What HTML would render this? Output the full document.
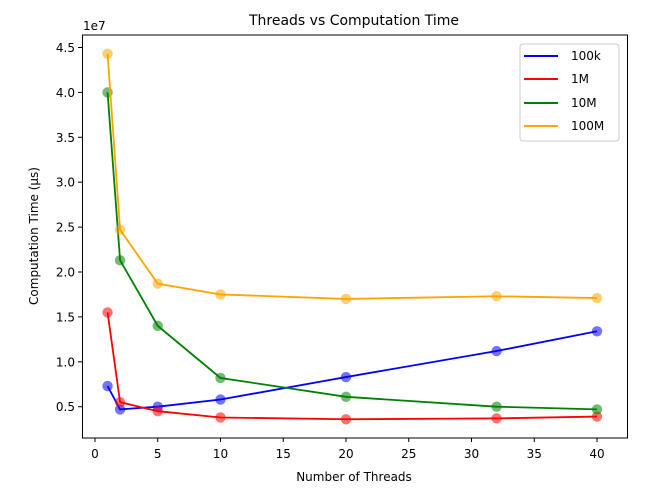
<!DOCTYPE html>
<html><head><meta charset="utf-8"><style>
body{margin:0;background:#fff;}
svg{display:block;font-family:"DejaVu Sans","Liberation Sans",sans-serif;}
</style></head><body>
<svg id="s" width="648" height="497" xmlns="http://www.w3.org/2000/svg">
<rect width="648" height="497" fill="#fff"/>
<text x="354" y="25" font-size="14" text-anchor="middle" fill="#000">Threads vs Computation Time</text>
<text x="83" y="30" font-size="12" fill="#000">1e7</text>
<g id="ticks" font-size="12" fill="#000"></g>
<g id="data"></g>
<rect x="82.5" y="35" width="545" height="403" fill="none" stroke="#000" stroke-width="1"/>
<text x="354" y="481" font-size="12" text-anchor="middle">Number of Threads</text>
<text transform="translate(38,236) rotate(-90)" font-size="12" text-anchor="middle">Computation Time (µs)</text>
<rect x="520" y="44" width="99" height="97" rx="3" fill="#fff" fill-opacity="0.8" stroke="#ccc"/>
<line x1="524" y1="56" x2="558" y2="56" stroke="blue" stroke-width="2"/><text x="571" y="60" font-size="12">100k</text>
<line x1="524" y1="79" x2="558" y2="79" stroke="red" stroke-width="2"/><text x="571" y="83" font-size="12">1M</text>
<line x1="524" y1="103" x2="558" y2="103" stroke="green" stroke-width="2"/><text x="571" y="107" font-size="12">10M</text>
<line x1="524" y1="126" x2="558" y2="126" stroke="orange" stroke-width="2"/><text x="571" y="130" font-size="12">100M</text>
</svg>
<script>
var X=function(t){return 95+t*12.55;},Y=function(v){return 406.7-(v-0.5)*89.8;};
var tk=document.getElementById('ticks'),h='';
for(var t=0;t<=40;t+=5){var x=X(t);h+='<line x1="'+x+'" y1="438" x2="'+x+'" y2="442" stroke="#000"/><text x="'+x+'" y="458" text-anchor="middle">'+t+'</text>';}
for(var v=0.5;v<=4.5001;v+=0.5){var y=Y(v);h+='<line x1="78" y1="'+y+'" x2="82.5" y2="'+y+'" stroke="#000"/><text x="75" y="'+(y+4.5)+'" text-anchor="end">'+v.toFixed(1)+'</text>';}
tk.innerHTML=h;
var xs=[1,2,5,10,20,32,40];
var S=[["blue",[0.73,0.47,0.50,0.58,0.83,1.12,1.34]],["red",[1.55,0.55,0.45,0.38,0.36,0.37,0.39]],["green",[4.0,2.13,1.40,0.82,0.61,0.50,0.47]],["orange",[4.43,2.47,1.87,1.75,1.70,1.73,1.71]]];
var d='';
S.forEach(function(s){var p=xs.map(function(t,i){return X(t)+','+Y(s[1][i]);}).join(' ');
d+='<polyline points="'+p+'" fill="none" stroke="'+s[0]+'" stroke-width="1.8"/>';
xs.forEach(function(t,i){d+='<circle cx="'+X(t)+'" cy="'+Y(s[1][i])+'" r="5.2" fill="'+s[0]+'" fill-opacity="0.55"/>';});});
document.getElementById('data').innerHTML=d;
</script>
</body></html>
